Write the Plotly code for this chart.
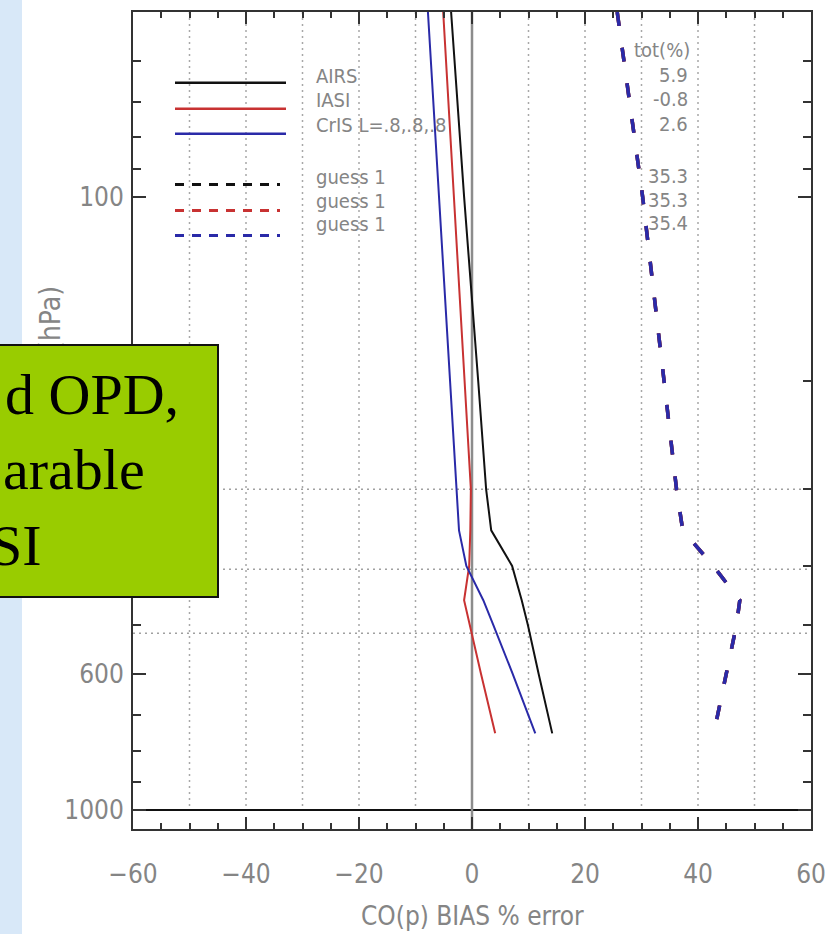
import math
import plotly.graph_objects as go

# ---------------- data ----------------
pressure = [50, 100, 200, 300, 350, 400, 455, 500, 600, 750]          # hPa
airs = [-3.7, -1.4, 1.1, 2.5, 3.4, 7.1, 8.8, 9.9, 11.8, 14.2]
iasi = [-5.1, -3.2, -1.3, -0.2, -0.3, -0.5, -1.4, -0.4, 1.6, 4.1]
cris = [-7.8, -5.8, -3.8, -2.7, -2.3, -1.0, 2.0, 3.8, 7.2, 11.2]
guess_airs = [25.7, 30.2, 34.0, 36.2, 37.3, 42.7, 47.4, 46.8, 45.0, 42.8]
guess_iasi = [25.7, 30.2, 34.0, 36.2, 37.3, 42.7, 47.4, 46.8, 45.0, 42.8]
guess_cris = [25.7, 30.2, 34.0, 36.2, 37.3, 42.7, 47.4, 46.8, 45.0, 42.8]

solid_names = ["AIRS", "IASI", "CrIS L=.8,.8,.8"]
guess_names = ["guess 1", "guess 1", "guess 1"]
tot_header = "tot(%)"
tot_solid = ["5.9", "-0.8", "2.6"]
tot_guess = ["35.3", "35.3", "35.4"]

layer_lines = [300, 405, 515]            # dotted horizontal lines (hPa)
x_grid = [-50, -40, -30, -20, -10, 10, 20, 30, 40, 50]
x_ticks = [-60, -40, -20, 0, 20, 40, 60]
x_ticktext = ["\u221260", "\u221240", "\u221220", "0", "20", "40", "60"]
y_ticks = [100, 600, 1000]
y_ticktext = ["100", "600", "1000"]
y_minor = [60, 70, 80, 90, 200, 300, 400, 500, 700, 800, 900]
p_top, p_bot = 50, 1074

box_lines = ["d OPD,", "arable", "SI"]

colors = ["#111111", "#c83232", "#2a2aa8"]
NARROW = "Liberation Sans Narrow, Arial Narrow, DejaVu Sans Condensed, sans-serif"
GRAY = "#858585"

# pixel helpers (plot area 133..811 x 10..829)
L, R, T, B = 133, 811, 10, 829
def pxx(x):
    return (x - L) / (R - L)
def pxy(y):
    return (B - y) / (B - T)

fig = go.Figure()

# vertical dotted grid
for xv in x_grid:
    fig.add_trace(go.Scatter(x=[xv, xv], y=[p_top, 1000], mode="lines",
                             line=dict(color="#a8a8a8", width=1.5, dash="2px,4px"),
                             showlegend=False, hoverinfo="skip"))
# horizontal dotted lines
for pv in layer_lines:
    fig.add_trace(go.Scatter(x=[-60, 60], y=[pv, pv], mode="lines",
                             line=dict(color="#a0a0a0", width=1.5, dash="2px,4px"),
                             showlegend=False, hoverinfo="skip"))
# 1000 hPa line and zero line
fig.add_trace(go.Scatter(x=[-60, 60], y=[1000, 1000], mode="lines",
                         line=dict(color="#111", width=2), showlegend=False, hoverinfo="skip"))
fig.add_trace(go.Scatter(x=[0, 0], y=[p_top, p_bot], mode="lines",
                         line=dict(color="#8c8c8c", width=2.5), showlegend=False, hoverinfo="skip"))

# guess (dashed)
for vals, c, n in zip([guess_airs, guess_iasi, guess_cris], colors, guess_names):
    fig.add_trace(go.Scatter(x=vals, y=pressure, mode="lines", name=n,
                             line=dict(color=c, width=3.5, dash="14px,22px"),
                             showlegend=False))
# retrievals (solid)
for vals, c, n in zip([airs, iasi, cris], colors, solid_names):
    fig.add_trace(go.Scatter(x=vals, y=pressure, mode="lines", name=n,
                             line=dict(color=c, width=2), showlegend=False))

shapes = []
# left slide strip
shapes.append(dict(type="rect", xref="paper", yref="paper", layer="below",
                   x0=pxx(-5), x1=pxx(22), y0=pxy(940), y1=pxy(-5),
                   fillcolor="#d8e8f8", line=dict(width=0)))
# legend samples
solid_y = [81, 107, 132]
dash_y = [183, 209, 234]
for i, c in enumerate(colors):
    shapes.append(dict(type="line", xref="paper", yref="paper",
                       x0=pxx(175), x1=pxx(286), y0=pxy(solid_y[i]), y1=pxy(solid_y[i]),
                       line=dict(color=c, width=2.5)))
    shapes.append(dict(type="line", xref="paper", yref="paper",
                       x0=pxx(175), x1=pxx(280), y0=pxy(dash_y[i]), y1=pxy(dash_y[i]),
                       line=dict(color=c, width=3, dash="9px,8px")))

ann = []
tfont = dict(family=NARROW, size=20, color=GRAY)
# axis titles
ann.append(dict(text="Pressure (hPa)", textangle=-90, xref="paper", yref="paper",
                x=pxx(50), y=pxy(283), xanchor="center", yanchor="top",
                showarrow=False, font=dict(family=NARROW, size=28, color=GRAY)))
ann.append(dict(text="CO(p) BIAS % error", xref="paper", yref="paper",
                x=pxx(472), y=pxy(916), xanchor="center", yanchor="middle",
                showarrow=False, font=dict(family=NARROW, size=26, color=GRAY)))
# legend labels
solid_ty = [74, 98, 123]
dash_ty = [175, 199, 223]
for i in range(3):
    ann.append(dict(text=solid_names[i], xref="paper", yref="paper", x=pxx(314), y=pxy(solid_ty[i]),
                    xanchor="left", yanchor="middle", showarrow=False, font=tfont))
    ann.append(dict(text=guess_names[i], xref="paper", yref="paper", x=pxx(314), y=pxy(dash_ty[i]),
                    xanchor="left", yanchor="middle", showarrow=False, font=tfont))
    ann.append(dict(text=tot_solid[i], xref="paper", yref="paper", x=pxx(690), y=pxy(solid_ty[i] - 1),
                    xanchor="right", yanchor="middle", showarrow=False, font=tfont))
    ann.append(dict(text=tot_guess[i], xref="paper", yref="paper", x=pxx(690), y=pxy(dash_ty[i] - 1),
                    xanchor="right", yanchor="middle", showarrow=False, font=tfont))
ann.append(dict(text=tot_header, xref="paper", yref="paper", x=pxx(692), y=pxy(48),
                xanchor="right", yanchor="middle", showarrow=False, font=tfont))
# green callout box (drawn over the y title)
ann.append(dict(text=" ", xref="paper", yref="paper", x=pxx(-25), y=pxy(343),
                xanchor="left", yanchor="top", width=240, height=250,
                bgcolor="#99cc00", bordercolor="#111", borderwidth=2, borderpad=0,
                showarrow=False))
box_x = [3, 1, -12]
box_y = [393, 469, 545]
for t, bx, by in zip(box_lines, box_x, box_y):
    ann.append(dict(text=t, xref="paper", yref="paper", x=pxx(bx), y=pxy(by),
                    xanchor="left", yanchor="middle", showarrow=False,
                    font=dict(family="Liberation Serif, Times New Roman, serif", size=58, color="#000")))

axis_common = dict(showline=True, linewidth=2, linecolor="#333", mirror="ticks",
                   ticks="inside", tickcolor="#333", tickwidth=2, showgrid=False, zeroline=False,
                   tickfont=dict(family=NARROW, size=26, color=GRAY))

fig.update_layout(
    width=837, height=934,
    margin=dict(l=L, r=837 - R, t=T, b=934 - B),
    paper_bgcolor="white", plot_bgcolor="white",
    xaxis=dict(range=[-60, 60], tickmode="array", tickvals=x_ticks, ticktext=x_ticktext,
               ticklen=12, ticklabelstandoff=21,
               minor=dict(tickmode="linear", tick0=0, dtick=5, ticks="inside", ticklen=6,
                          tickwidth=1.5, tickcolor="#333", showgrid=False),
               **axis_common),
    yaxis=dict(type="log", range=[math.log10(p_bot), math.log10(p_top)],
               tickmode="array", tickvals=y_ticks, ticktext=y_ticktext, ticklen=13,
               ticklabelstandoff=2,
               minor=dict(tickmode="array", tickvals=y_minor, ticks="inside", ticklen=8,
                          tickwidth=2, tickcolor="#333", showgrid=False),
               **axis_common),
    shapes=shapes,
    annotations=ann,
    showlegend=False,
)

fig.write_html("out.html", config={"displayModeBar": False},
               post_script="document.body.style.margin='0';document.body.style.overflow='hidden';")
